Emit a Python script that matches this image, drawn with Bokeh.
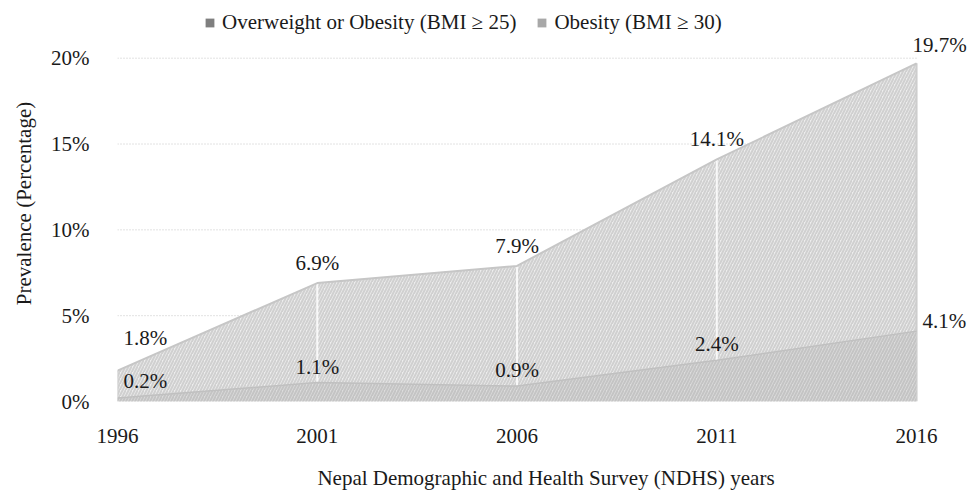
from bokeh.plotting import figure
from bokeh.models import ColumnDataSource, LabelSet, Range1d, Legend, LegendItem, FixedTicker, CustomJSTickFormatter
from bokeh.embed import file_html
from bokeh.resources import INLINE
from bokeh.core.properties import value

years = [1996, 2001, 2006, 2011, 2016]
overweight = [1.8, 6.9, 7.9, 14.1, 19.7]
obesity = [0.2, 1.1, 0.9, 2.4, 4.1]
y_ticks = [0, 5, 10, 15, 20]

FONT = "Liberation Serif"
FS = "21px"
TXT = "#1a1a1a"

src = ColumnDataSource(dict(x=years, ow=overweight, ob=obesity, zero=[0] * len(years)))

# frame extended up/right so that the value labels and legend (drawn inside the frame) are not clipped
p = figure(width=976, height=492, output_backend="svg", toolbar_location=None,
           x_range=Range1d(years[0], years[-1] + 1.45), y_range=Range1d(0, y_ticks[-1] * 1.1535),
           min_border_left=117, min_border_right=2, min_border_top=5, min_border_bottom=89)
p.outline_line_color = None
p.background_fill_color = "white"
p.xgrid.grid_line_color = None
p.ygrid.grid_line_color = None

# dotted horizontal gridlines spanning the data extent only
gsrc = ColumnDataSource(dict(x0=[years[0]] * 4, x1=[years[-1]] * 4, y=y_ticks[1:]))
p.segment(x0="x0", y0="y", x1="x1", y1="y", source=gsrc, line_color="#c4c4c4",
          line_dash="1 2", line_width=1)

# areas
p.varea(x="x", y1="zero", y2="ow", source=src, fill_color="#ededed",
        hatch_pattern="/", hatch_color="#d0d0d0", hatch_scale=6, hatch_weight=2)
inner = ColumnDataSource(dict(x=years[1:-1], y0=[0] * (len(years) - 2), y1=overweight[1:-1]))
p.segment(x0="x", y0="y0", x1="x", y1="y1", source=inner, line_color="#f8f8f8", line_width=2)
edge = ColumnDataSource(dict(x=[years[0], years[-1]], y0=[0, 0], y1=[overweight[0], overweight[-1]]))
p.segment(x0="x", y0="y0", x1="x", y1="y1", source=edge, line_color="#cdcdcd", line_width=2)
p.line(x="x", y="ow", source=src, line_color="#c6c6c6", line_width=2)
p.varea(x="x", y1="zero", y2="ob", source=src, fill_color="#dcdcdc",
        hatch_pattern="/", hatch_color="#c4c4c4", hatch_scale=6, hatch_weight=2)
p.line(x="x", y="ob", source=src, line_color="#c0c0c0", line_width=1.5)

# axes
p.xaxis.ticker = FixedTicker(ticks=years)
p.yaxis.ticker = FixedTicker(ticks=y_ticks)
p.yaxis.formatter = CustomJSTickFormatter(code="return tick.toFixed(0) + '%';")
for ax in (p.xaxis[0], p.yaxis[0]):
    ax.axis_line_color = None
    ax.major_tick_line_color = None
    ax.minor_tick_line_color = None
    ax.major_label_text_font = FONT
    ax.major_label_text_font_size = FS
    ax.major_label_text_color = TXT
    ax.axis_label_text_font = FONT
    ax.axis_label_text_font_size = FS
    ax.axis_label_text_font_style = "normal"
    ax.axis_label_text_color = TXT
p.xaxis.major_label_standoff = 21
p.yaxis.major_label_standoff = 22
p.xaxis.axis_label = "Nepal Demographic and Health Survey (NDHS) years"
p.yaxis.axis_label = "Prevalence (Percentage)"
p.xaxis.axis_label_standoff = 20
p.yaxis.axis_label_standoff = 12

# value labels
def part(sl):
    return ColumnDataSource(dict(x=years[sl], ow=overweight[sl], ob=obesity[sl],
                                 owl=[f"{v:.1f}%" for v in overweight[sl]],
                                 obl=[f"{v:.1f}%" for v in obesity[sl]]))
mid, first, last = part(slice(1, -1)), part(slice(0, 1)), part(slice(-1, None))
common = dict(text_font=value(FONT), text_font_size=FS, text_color=TXT, text_baseline="middle")
p.add_layout(LabelSet(x="x", y="ow", text="owl", source=mid, text_align="center", y_offset=20, **common))
p.add_layout(LabelSet(x="x", y="ob", text="obl", source=mid, text_align="center", y_offset=16, **common))
p.add_layout(LabelSet(x="x", y="ow", text="owl", source=first, text_align="left", x_offset=6, y_offset=33, **common))
p.add_layout(LabelSet(x="x", y="ob", text="obl", source=first, text_align="left", x_offset=6, y_offset=17, **common))
p.add_layout(LabelSet(x="x", y="ow", text="owl", source=last, text_align="left", x_offset=-4, y_offset=18, **common))
p.add_layout(LabelSet(x="x", y="ob", text="obl", source=last, text_align="left", x_offset=6, y_offset=10, **common))

# legend (swatch-only renderers with no visible data)
nan = float("nan")
r1 = p.quad(left=[nan], right=[nan], top=[nan], bottom=[nan], fill_color="#7f7f7f", line_color=None)
r2 = p.quad(left=[nan], right=[nan], top=[nan], bottom=[nan], fill_color="#a8a8a8", line_color=None)
legend = Legend(items=[LegendItem(label="Overweight or Obesity (BMI ≥ 25)", renderers=[r1]),
                       LegendItem(label="Obesity (BMI ≥ 30)", renderers=[r2])],
                orientation="horizontal", location=(87, 366),
                label_text_font=FONT, label_text_font_size=FS, label_text_color=TXT,
                glyph_width=11, glyph_height=11, label_standoff=7, spacing=20,
                border_line_color=None, background_fill_alpha=0, padding=0, margin=0)
p.add_layout(legend, "center")

open("out.html", "w").write(file_html(p, INLINE))
